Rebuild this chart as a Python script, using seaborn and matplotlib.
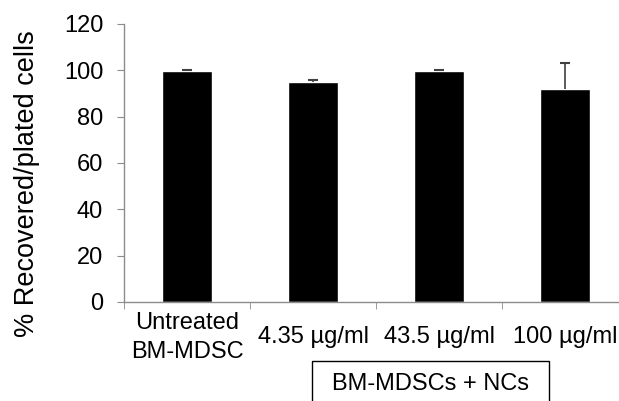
import matplotlib
matplotlib.use("Agg")
import matplotlib.pyplot as plt
import matplotlib.patches as mpatches
import numpy as np
import pandas as pd
import seaborn as sns

# ── Data ─────────────────────────────────────────────────────────────────────
categories = ["Untreated\nBM-MDSC", "4.35 µg/ml", "43.5 µg/ml", "100 µg/ml"]
recovered = [99.8, 95.0, 99.8, 91.8]
err_upper = [0.3, 1.0, 0.3, 11.2]
y_ticks = [0, 20, 40, 60, 80, 100, 120]

df = pd.DataFrame({"group": categories, "pct": recovered})

sns.set_style("white")
plt.rcParams["font.family"] = ["Liberation Sans", "DejaVu Sans"]
plt.rcParams["text.color"] = "black"
plt.rcParams["axes.labelcolor"] = "black"

fig = plt.figure(figsize=(6.19, 4.01), dpi=100)
ax = fig.add_axes([124 / 619, 1 - 302 / 401, 504 / 619, 278 / 401])

sns.barplot(data=df, x="group", y="pct", color="black", width=0.39,
            errorbar=None, ax=ax, saturation=1)

# upper-only error bars: stem + cap
xpos = np.arange(len(categories))
tops = np.array(recovered) + np.array(err_upper)
ax.vlines(xpos, recovered, tops, color="#404040", linewidth=1.2, zorder=3)
ax.plot(xpos, tops, linestyle="none", marker="_", markersize=7,
        markeredgewidth=1.5, color="#404040", zorder=3)

ax.set_ylim(0, 120)
ax.set_yticks(y_ticks)
ax.set_xlim(-0.5, len(categories) - 0.5)
ax.set_xlabel("")
ax.set_ylabel("% Recovered/plated cells", fontsize=19.5)
ax.yaxis.set_label_coords(-0.166, 0.425)

for side in ["top", "right"]:
    ax.spines[side].set_visible(False)
for side in ["left", "bottom"]:
    ax.spines[side].set_color("#8c8c8c")
    ax.spines[side].set_linewidth(1)

ax.tick_params(axis="y", which="major", labelsize=17, length=5, color="#8c8c8c",
               labelcolor="black", direction="out", left=True, pad=10)
ax.tick_params(axis="x", which="major", labelsize=17, length=0, pad=25.5,
               labelcolor="black")
ax.set_xticks(np.arange(-0.5, len(categories), 1.0), minor=True)
ax.tick_params(axis="x", which="minor", length=5, color="#8c8c8c",
               direction="out", bottom=True)
for lab in ax.get_xticklabels():
    lab.set_linespacing(1.45)
    lab.set_verticalalignment("center")

# boxed group label under the three NC treatments
fig.patches.append(mpatches.Rectangle((312 / 619, 1 - 406 / 401), 237 / 619, 45 / 401,
                                      transform=fig.transFigure, fill=False,
                                      edgecolor="black", linewidth=1))
fig.text(431 / 619, 1 - 384 / 401, "BM-MDSCs + NCs", ha="center", va="center",
         fontsize=17)

fig.savefig("out.png", dpi=100)
